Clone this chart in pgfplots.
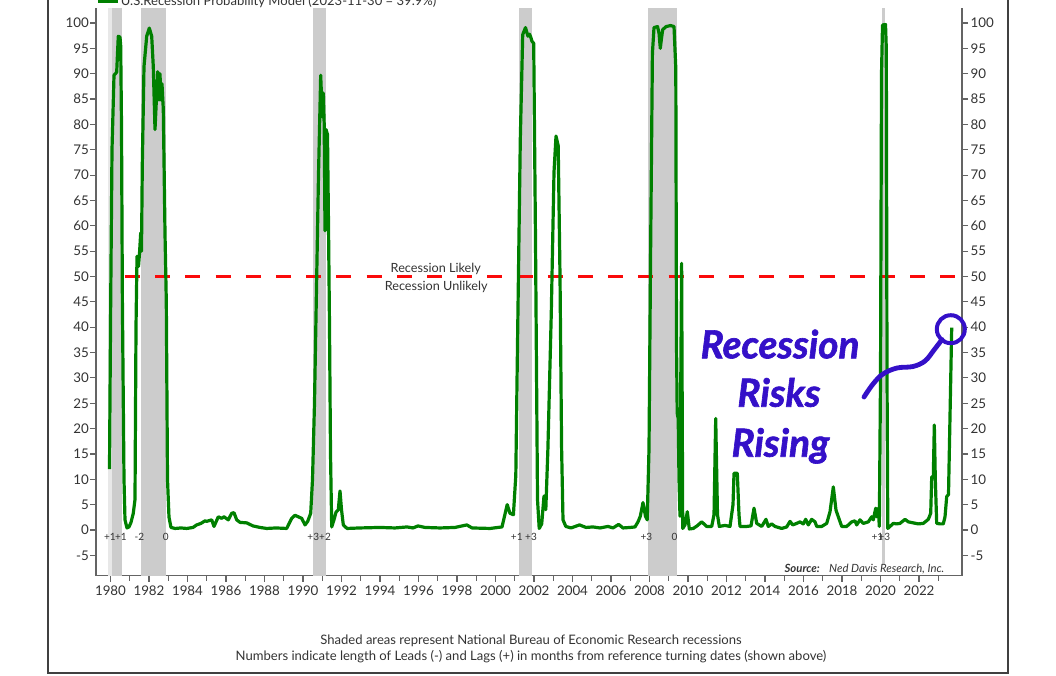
\documentclass[border=0pt]{standalone}
\usepackage{fontspec}
\setmainfont{Lato}
\newfontfamily\annfont{Lato}[BoldItalicFeatures={FakeBold=1.6}]
\usepackage{pgfplots}
\pgfplotsset{compat=1.18}
\definecolor{linegreen}{RGB}{0,128,0}
\definecolor{recgray}{RGB}{204,204,204}
\definecolor{reclight}{RGB}{232,232,232}
\definecolor{axgray}{RGB}{100,100,100}
\definecolor{txt}{RGB}{51,51,51}
\definecolor{annblue}{RGB}{52,16,200}
\definecolor{framegray}{RGB}{64,64,64}
\definecolor{dashred}{RGB}{250,10,10}

\pgfplotstableread{
year value
1979.948 12
1980.010 45
1980.078 75
1980.182 89.7
1980.322 90.3
1980.364 94
1980.405 97.4
1980.494 97.2
1980.530 95.5
1980.571 80
1980.618 45
1980.701 10
1980.753 2
1980.857 0.4
1980.961 0.6
1981.065 1.5
1981.184 3.3
1981.273 6
1981.325 40
1981.377 54
1981.455 52
1981.506 54.5
1981.569 58.6
1981.610 55
1981.652 72
1981.740 91.4
1981.881 97.4
1982.016 99.0
1982.140 97.4
1982.223 91.4
1982.312 79
1982.452 90.4
1982.519 84.8
1982.571 90
1982.623 84.8
1982.675 88
1982.743 83
1982.831 58.6
1982.899 45
1982.961 10
1983.039 2.5
1983.143 0.5
1983.351 0.3
1983.662 0.4
1983.958 0.3
1984.286 0.5
1984.478 1.0
1984.701 1.3
1984.909 1.8
1984.997 1.7
1985.257 2.0
1985.377 0.7
1985.600 2.6
1985.777 2.3
1985.896 2.6
1986.119 2.0
1986.296 3.3
1986.416 3.4
1986.556 2.0
1986.727 1.5
1987.075 1.4
1987.403 0.8
1987.766 0.5
1988.114 0.3
1988.597 0.4
1989.153 0.3
1989.413 2.3
1989.584 2.9
1989.756 2.6
1989.932 2.3
1990.104 1.0
1990.244 1.7
1990.400 3.3
1990.494 10
1990.597 25
1990.712 50
1990.805 70
1990.919 89.7
1991.003 81.5
1991.055 86.2
1991.101 80
1991.143 59
1991.195 79
1991.273 78
1991.325 60
1991.377 40
1991.429 15
1991.491 0.6
1991.610 2
1991.714 3.5
1991.834 4.0
1991.922 7.7
1992.000 4
1992.094 1.0
1992.286 0.3
1992.961 0.4
1994.000 0.5
1994.779 0.4
1995.403 0.6
1995.714 0.4
1995.974 0.8
1996.338 0.5
1997.117 0.4
1997.896 0.5
1998.509 1.0
1998.779 0.4
1999.714 0.3
2000.338 0.6
2000.608 5.0
2000.753 3.3
2000.930 3.0
2001.055 10.8
2001.143 36.6
2001.288 77
2001.413 97.7
2001.558 99.1
2001.683 97.4
2001.766 97.8
2001.823 97.3
2001.896 96.4
2001.984 96
2002.078 57
2002.182 6
2002.270 0.3
2002.400 1.2
2002.519 6.7
2002.613 4.0
2002.722 16
2002.899 43
2003.039 70.6
2003.143 77.7
2003.257 75.8
2003.351 50
2003.434 16
2003.506 2
2003.652 0.7
2003.922 0.4
2004.364 1.0
2004.701 0.5
2005.065 0.6
2005.429 0.4
2005.844 0.7
2006.104 0.4
2006.395 1.1
2006.623 0.4
2006.987 0.5
2007.247 0.6
2007.403 1.6
2007.522 2.7
2007.662 5.4
2007.792 2.7
2007.881 2.0
2007.974 16
2008.062 57
2008.151 94
2008.234 99.1
2008.416 99.3
2008.494 98
2008.561 95
2008.623 97
2008.686 98.7
2008.868 99.3
2009.096 99.5
2009.273 99.3
2009.366 91
2009.403 36.6
2009.439 23
2009.491 22
2009.532 10
2009.584 2.7
2009.626 30
2009.668 52.6
2009.725 0.3
2009.844 1.0
2009.964 3.6
2010.068 0.2
2010.275 0.3
2010.468 0.8
2010.712 1.6
2010.971 0.7
2011.231 0.7
2011.351 3
2011.439 22
2011.532 3
2011.626 0.7
2011.922 0.9
2012.182 0.7
2012.338 5
2012.390 11.2
2012.561 11.2
2012.649 3
2012.701 0.7
2013.049 0.7
2013.273 0.8
2013.429 4.3
2013.569 1.3
2013.829 0.7
2014.052 2.1
2014.171 0.7
2014.348 1.2
2014.519 0.7
2014.868 0.3
2015.127 0.6
2015.299 1.7
2015.439 1.0
2015.647 1.3
2015.818 1.6
2015.990 1.2
2016.114 2.1
2016.249 1.0
2016.426 2.1
2016.597 1.6
2016.686 0.7
2016.945 0.7
2017.205 1.3
2017.377 3.6
2017.548 8.5
2017.688 3.9
2017.808 2.6
2017.984 0.7
2018.244 0.7
2018.504 1.6
2018.675 1.8
2018.764 1.0
2018.935 2.0
2019.106 1.3
2019.366 1.6
2019.543 2.6
2019.626 2.0
2019.751 4.3
2019.803 2.6
2019.886 4.3
2019.938 0.7
2020.000 30
2020.052 90
2020.104 99.6
2020.260 99.7
2020.301 95
2020.338 30
2020.379 0.3
2020.493 0.7
2020.665 1.3
2020.841 1.2
2021.013 1.3
2021.273 2.1
2021.444 1.6
2021.704 1.4
2021.964 1.2
2022.223 1.3
2022.483 2.1
2022.608 3.3
2022.660 10.5
2022.743 10.5
2022.795 20.7
2022.847 9.9
2022.919 1.3
2023.091 1.2
2023.262 1.2
2023.351 2.6
2023.439 6.6
2023.532 7
2023.699 39.9
}\probdata

\pgfplotsset{
  common/.style={
    at={(72pt,-431.7pt)}, anchor=south west,
    scale only axis, width=649.5pt, height=425.85pt,
    xmin=1979.247, xmax=2024.234, ymin=-9, ymax=103,
    axis line style={axgray, line width=1.1pt},
    every tick/.style={axgray, line width=0.9pt},
    tick align=outside,
    major tick length=4.5pt,
    minor tick length=4pt,
    ytick={-5,0,...,100},
    ticklabel style={font=\fontsize{10}{12}\selectfont, text=txt},
    /pgf/number format/assume math mode=true,
    /pgf/number format/1000 sep={},
  },
}
\tikzset{leadlag/.style={font=\fontsize{7.5}{8}\selectfont, text=txt, inner sep=0pt}}

\begin{document}
\begin{tikzpicture}
\useasboundingbox (0pt,0pt) rectangle (792pt,-506.25pt);

\begin{axis}[common,
  axis x line*=bottom, axis y line*=left,
  yticklabel style={xshift=2.6pt},
  xtick={1980,1982,...,2022},
  minor xtick={1981,1983,...,2023},
  legend style={at={(0,1)}, anchor=west, xshift=0pt, yshift=4.8pt,
    draw=none, fill=none, inner sep=0pt,
    font=\fontsize{9.8}{11}\selectfont, text=txt,
    nodes={inner sep=1pt}},
  legend image code/.code={\draw[#1] (0pt,0pt) -- (15pt,0pt);},
]
% recession shading
\addplot[forget plot, fill=reclight, draw=none] coordinates {(1979.886,-9) (1979.886,103) (1980.062,103) (1980.062,-9)} -- cycle;
\addplot[forget plot, fill=recgray, draw=none] coordinates {(1980.062,-9) (1980.062,103) (1980.582,103) (1980.582,-9)} -- cycle;
\addplot[forget plot, fill=recgray, draw=none] coordinates {(1981.584,-9) (1981.584,103) (1982.883,103) (1982.883,-9)} -- cycle;
\addplot[forget plot, fill=recgray, draw=none] coordinates {(1990.519,-9) (1990.519,103) (1991.195,103) (1991.195,-9)} -- cycle;
\addplot[forget plot, fill=recgray, draw=none] coordinates {(2001.200,-9) (2001.200,103) (2001.896,103) (2001.896,-9)} -- cycle;
\addplot[forget plot, fill=recgray, draw=none] coordinates {(2007.917,-9) (2007.917,103) (2009.439,103) (2009.439,-9)} -- cycle;
\addplot[forget plot, fill=recgray, draw=none] coordinates {(2020.060,-7) (2020.060,103) (2020.230,103) (2020.230,-7)} -- cycle;
% threshold
\addplot[forget plot, dashred, line width=2.25pt, dash pattern=on 11.25pt off 11.4pt, dash phase=11.4pt] coordinates {(1979.974,50) (2023.974,50)};
% model
\addplot[linegreen, line width=2.4pt, line join=round] table[x=year, y=value] {\probdata};
\addlegendentry{U.S.Recession Probability Model (2023-11-30 = 39.9\%)}

% lead / lag labels
\node[leadlag] at (axis cs:1979.974,-1.3) {+1};
\node[leadlag] at (axis cs:1980.545,-1.3) {+1};
\node[leadlag] at (axis cs:1981.496,-1.3) {-2};
\node[leadlag] at (axis cs:1982.868,-1.3) {0};
\node[leadlag] at (axis cs:1990.535,-1.3) {+3};
\node[leadlag] at (axis cs:1991.143,-1.3) {+2};
\node[leadlag] at (axis cs:2001.106,-1.3) {+1};
\node[leadlag] at (axis cs:2001.844,-1.3) {+3};
\node[leadlag] at (axis cs:2007.839,-1.3) {+3};
\node[leadlag] at (axis cs:2009.304,-1.3) {0};
\node[leadlag] at (axis cs:2019.840,-1.3) {+1};
\node[leadlag] at (axis cs:2020.200,-1.3) {+3};

\node[font=\fontsize{9.5}{11}\selectfont, text=txt] at (axis cs:1996.90,51.4) {Recession Likely};
\node[font=\fontsize{9.5}{11}\selectfont, text=txt] at (axis cs:1996.92,48.0) {Recession Unlikely};

\node[anchor=base east, font=\fontsize{8.5}{10}\selectfont\itshape, text=txt, xshift=-9.75pt, yshift=2.5pt]
  at (rel axis cs:1,0) {\textbf{Source:}\hspace{7pt}Ned Davis Research, Inc.};
\end{axis}

\begin{axis}[common,
  axis x line=none, axis y line*=right,
  yticklabel style={xshift=-1.5pt},
]
\addplot[draw=none, forget plot] coordinates {(2000,0)};
\end{axis}

\begin{scope}[x=0.75pt, y=-0.75pt]
\draw[framegray, line width=1.2pt] (48,-20) -- (48,673) -- (1008,673) -- (1008,-20);
\node[font=\fontsize{9.8}{12}\selectfont, text=txt, align=center] at (531,649)
  {Shaded areas represent National Bureau of Economic Research recessions\\
   Numbers indicate length of Leads (-) and Lags (+) in months from reference turning dates (shown above)};
\node[anchor=base, font=\annfont\fontsize{29}{32}\selectfont\bfseries\itshape, text=annblue] at (780,358.3) {Recession};
\node[anchor=base, font=\annfont\fontsize{29}{32}\selectfont\bfseries\itshape, text=annblue] at (779,406.7) {Risks};
\node[anchor=base, font=\annfont\fontsize{29}{32}\selectfont\bfseries\itshape, text=annblue] at (780.5,456.7) {Rising};
\draw[annblue, line width=3.6pt, line cap=round] plot[smooth, tension=0.6] coordinates
  {(864,397) (873,384) (883,374) (897,368) (913,366.5) (925,361) (934,350) (942,339.5)};
\draw[annblue, line width=3pt] (950.8,329.2) circle[radius=14];
\end{scope}
\end{tikzpicture}
\end{document}
